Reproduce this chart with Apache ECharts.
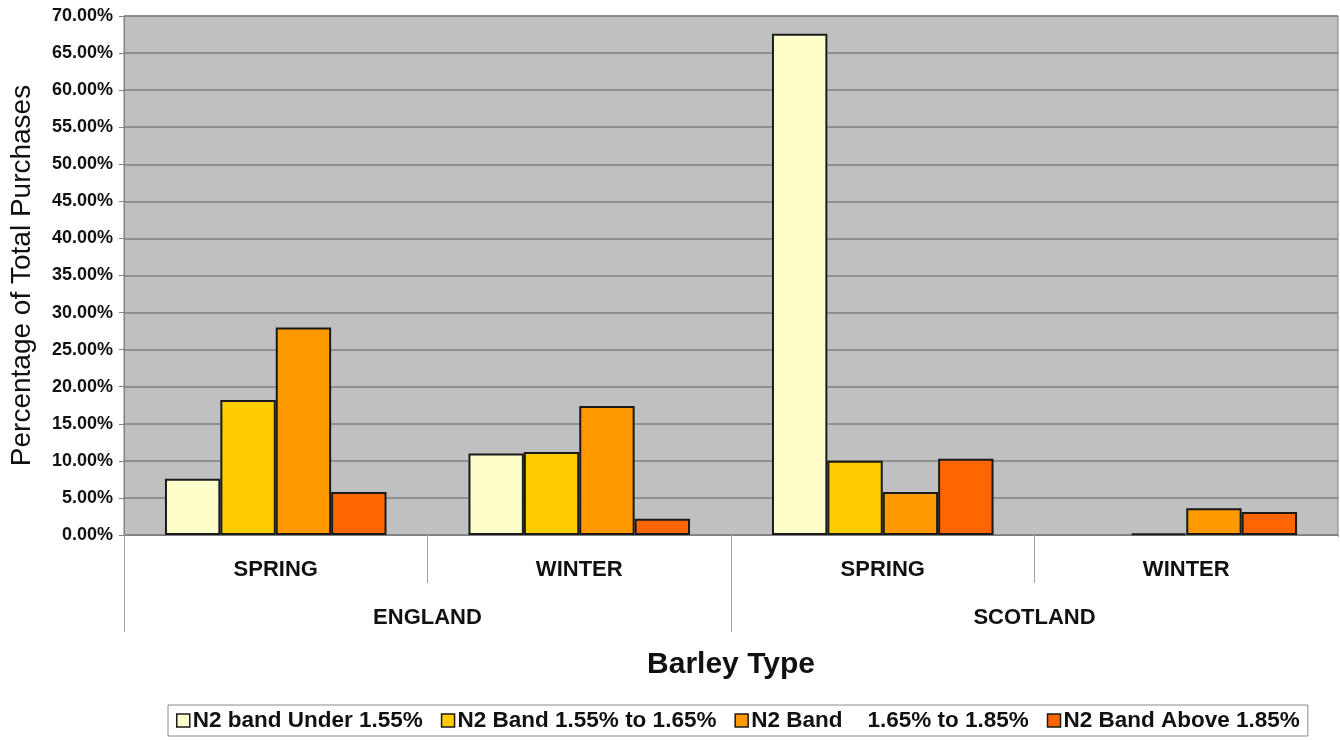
<!DOCTYPE html>
<html>
<head>
<meta charset="utf-8">
<script src="https://cdn.jsdelivr.net/npm/echarts@6/dist/echarts.min.js"></script>
<style>
html,body{margin:0;padding:0;background:#fff;overflow:hidden;}
#chart{width:1340px;height:740px;}
</style>
</head>
<body>
<div id="chart"></div>
<script>
const barleyTypes = ['SPRING', 'WINTER', 'SPRING', 'WINTER'];
const countries = ['ENGLAND', 'SCOTLAND'];
const seriesNames = ['N2 band Under 1.55%', 'N2 Band 1.55% to 1.65%', 'N2 Band    1.65% to 1.85%', 'N2 Band Above 1.85%'];
const under155 = [7.6, 11.0, 67.6, null];
const band155to165 = [18.2, 11.2, 10.0, 0.2];
const band165to185 = [28.0, 17.4, 5.8, 3.6];
const above185 = [5.8, 2.2, 10.3, 3.1];
const colors = ['#FFFFCC', '#FFCC00', '#FF9900', '#FF6600'];

const FONT = '"Liberation Sans", Arial, sans-serif';
const values = [under155, band155to165, band165to185, above185];

const chart = echarts.init(document.getElementById('chart'), null, {renderer: 'canvas'});
chart.setOption({
  animation: false,
  backgroundColor: '#ffffff',
  textStyle: {fontFamily: FONT},
  grid: {
    left: 124, right: 2, top: 16, bottom: 205,
    show: true, backgroundColor: '#C0C0C0', borderColor: '#808080', borderWidth: 1
  },
  legend: {
    data: seriesNames,
    left: 168, top: 705,
    itemWidth: 13, itemHeight: 13, itemGap: 18,
    icon: 'rect',
    padding: [4, 8],
    borderColor: '#8a8a8a', borderWidth: 1, backgroundColor: '#fff',
    itemStyle: {borderColor: '#1a1a1a', borderWidth: 1.5},
    textStyle: {fontFamily: FONT, fontWeight: 'bold', fontSize: 22.5, color: '#111', padding: [0, 0, 0, -2]}
  },
  graphic: [
    {type: 'rect', right: 0, top: 537, shape: {width: 3, height: 100}, style: {fill: '#ffffff'}, z: 100}
  ],
  xAxis: [
    {
      type: 'category', data: barleyTypes, position: 'bottom', offset: 0,
      axisLine: {show: true, lineStyle: {color: '#808080', width: 1}},
      axisTick: {show: true, length: 48, lineStyle: {color: '#a0a0a0', width: 1}},
      axisLabel: {fontFamily: FONT, fontWeight: 'bold', fontSize: 22, color: '#111', margin: 24}
    },
    {
      type: 'category', data: countries, position: 'bottom', offset: 0,
      axisLine: {show: false},
      axisTick: {show: true, length: 97, lineStyle: {color: '#a0a0a0', width: 1}},
      axisLabel: {fontFamily: FONT, fontWeight: 'bold', fontSize: 22, color: '#111', margin: 72},
      name: 'Barley Type', nameLocation: 'middle', nameGap: 115,
      nameTextStyle: {fontFamily: FONT, fontWeight: 'bold', fontSize: 30, color: '#111'}
    }
  ],
  yAxis: {
    type: 'value', min: 0, max: 70, interval: 5,
    axisLine: {show: true, lineStyle: {color: '#808080', width: 1}},
    axisTick: {show: true, length: 5, lineStyle: {color: '#808080'}},
    splitLine: {show: true, lineStyle: {color: '#808080', width: 1.5}},
    axisLabel: {
      fontFamily: FONT, fontWeight: 'bold', fontSize: 18, color: '#111', margin: 11,
      formatter: v => v.toFixed(2) + '%'
    },
    name: 'Percentage of Total Purchases', nameLocation: 'middle', nameGap: 88,
    nameTextStyle: {fontFamily: FONT, fontWeight: 'normal', fontSize: 28, color: '#111'}
  },
  series: seriesNames.map((name, i) => ({
    name: name, type: 'bar', xAxisIndex: 0, yAxisIndex: 0,
    data: values[i],
    barGap: '0%', barCategoryGap: '27%',
    itemStyle: {color: colors[i], borderColor: '#1a1a1a', borderWidth: 2}
  }))
});
</script>
</body>
</html>
